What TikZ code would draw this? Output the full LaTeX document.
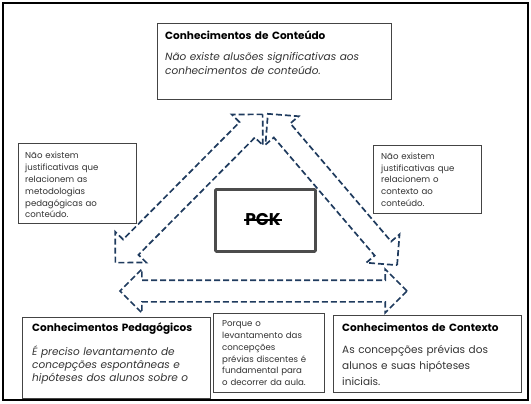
\documentclass[tikz,border=0pt]{standalone}
\usepackage{fontspec}
\setmainfont{Poppins}
\usetikzlibrary{shapes.arrows}
\definecolor{arrowblue}{HTML}{1F3B5E}
\definecolor{boxgray}{HTML}{444444}
\definecolor{textgray}{HTML}{333333}
\newcommand{\boxtitle}{\fontsize{10.5}{13}\selectfont\bfseries}
\newcommand{\boxbody}{\fontsize{10.5}{13.6}\selectfont\itshape}
\newcommand{\notefont}{\fontsize{8.6}{11.8}\selectfont}
\tikzset{
  box/.style={rectangle, draw=boxgray, line width=0.8pt, fill=white, anchor=north west, inner sep=0pt},
  txt/.style={anchor=base west, inner sep=0pt, align=left, text width=#1},
  dbl/.style={double arrow, draw=arrowblue, line width=1.7pt, dash pattern=on 6pt off 3pt,
              double arrow tip angle=90, double arrow head extend=11pt,
              inner xsep=0pt, inner ysep=10pt, minimum height=#1},
}

\begin{document}
\begin{tikzpicture}[x=1pt, y=-1pt]
\useasboundingbox (0,0) rectangle (531,404);
\draw[line width=2.8pt] (3,3) rectangle (528,400);
% arrows of the triangle
\node[dbl=209pt, rotate=45.2] (leftarrow) at (189,188.5) {};
\node[dbl=199pt, rotate=-49.5] (rightarrow) at (332.5,189.5) {};
\node[dbl=287pt] (bottomarrow) at (263.5,291) {};
% centre
\node[box, draw=black!70, line width=2.8pt, rounded corners=1pt, minimum width=100pt, minimum height=62pt] (pckbox) at (214,188) {};
\node[inner sep=0pt, font=\fontsize{17}{17}\selectfont\bfseries] (pck) at (263,220) {PCK};
\draw[line width=1.3pt] ([xshift=-1pt]pck.west) -- ([xshift=1pt]pck.east);
% conteudo
\node[box, minimum width=234pt, minimum height=76pt] (conteudo) at (157,23) {};
\node[txt=225pt, font=\boxtitle] (conteudotitle) at (165,39.5) {Conhecimentos de Conteúdo};
\node[txt=225pt, font=\boxbody, text=textgray] (conteudotext) at (165,60.7) {Não existe alusões significativas aos\\conhecimentos de conteúdo.};
% notes
\node[box, minimum width=118pt, minimum height=80pt] (noteleft) at (18,143) {};
\node[txt=110pt, font=\notefont, text=textgray] (noteleftext) at (25,159) {Não existem\\justificativas que\\relacionem as\\metodologias\\pedagógicas ao\\conteúdo.};
\node[box, minimum width=108pt, minimum height=68pt] (noteright) at (373,145) {};
\node[txt=100pt, font=\notefont, text=textgray] (noterighttext) at (381,159.3) {Não existem\\justificativas que\\relacionem o\\contexto ao\\conteúdo.};
\node[box, minimum width=111pt, minimum height=79pt] (notemid) at (213,313) {};
\node[txt=105pt, font=\notefont, text=textgray] (notemidtext) at (222,326.7) {Porque o\\levantamento das\\concepções\\prévias discentes é\\fundamental para\\o decorrer da aula.};
% pedagogicos
\node[box, minimum width=188pt, minimum height=81pt] (pedagogicos) at (22,317) {};
\node[txt=185pt, font=\boxtitle] (pedagogicostitle) at (32,331.7) {Conhecimentos Pedagógicos};
\node[txt=185pt, font=\fontsize{10.5}{13}\selectfont\itshape, text=textgray] (pedagogicostext) at (32,355) {É preciso levantamento de\\concepções espontâneas e\\hipóteses dos alunos sobre o};
% contexto
\node[box, minimum width=188pt, minimum height=77pt] (contexto) at (333,315) {};
\node[txt=180pt, font=\boxtitle] (contextotitle) at (342,331) {Conhecimentos de Contexto};
\node[txt=180pt, font=\fontsize{10.5}{16}\selectfont, text=textgray] (contextotext) at (342,353.5) {As concepções prévias dos\\alunos e suas hipóteses\\iniciais.};
\end{tikzpicture}
\end{document}
